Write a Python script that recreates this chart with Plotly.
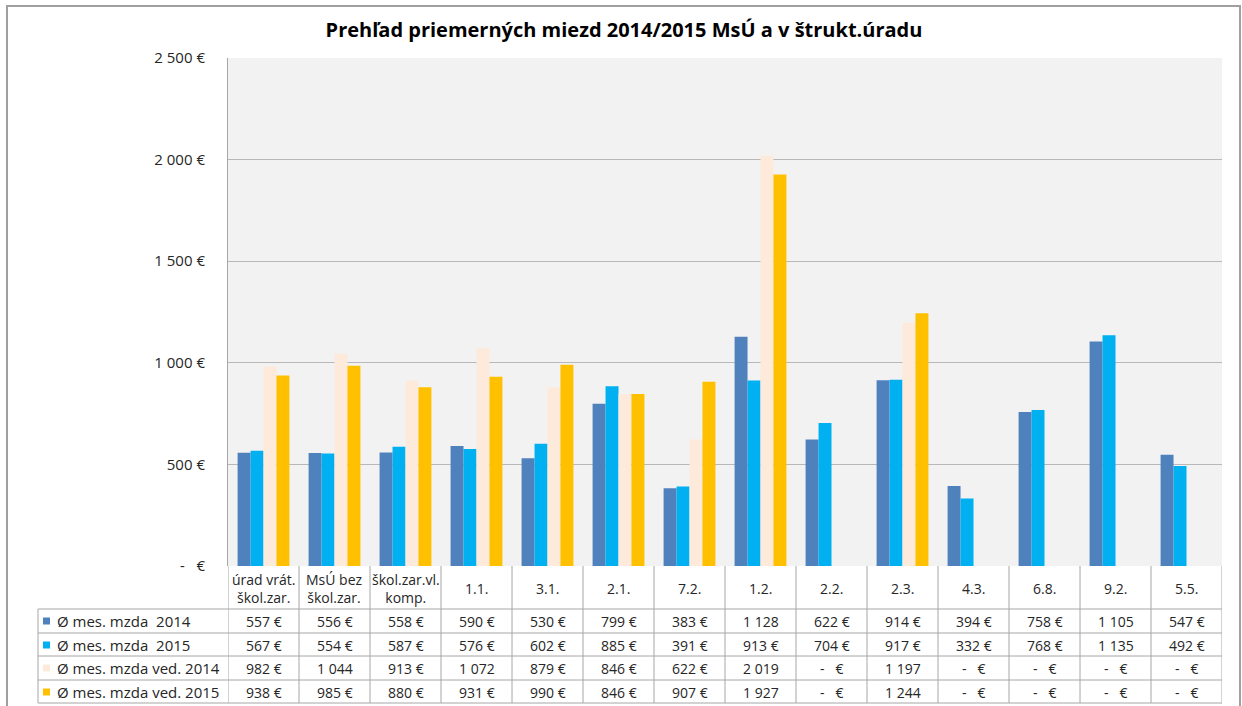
import plotly.graph_objects as go

categories = ["úrad vrát.<br>škol.zar.", "MsÚ bez<br>škol.zar.", "škol.zar.vl.<br>komp.", "1.1.", "3.1.", "2.1.",
              "7.2.", "1.2.", "2.2.", "2.3.", "4.3.", "6.8.", "9.2.", "5.5."]
series_names = ["Ø mes. mzda  2014", "Ø mes. mzda  2015", "Ø mes. mzda ved. 2014", "Ø mes. mzda ved. 2015"]
mzda_2014 = [557, 556, 558, 590, 530, 799, 383, 1128, 622, 914, 394, 758, 1105, 547]
mzda_2015 = [567, 554, 587, 576, 602, 885, 391, 913, 704, 917, 332, 768, 1135, 492]
ved_2014 = [982, 1044, 913, 1072, 879, 846, 622, 2019, 0, 1197, 0, 0, 0, 0]
ved_2015 = [938, 985, 880, 931, 990, 846, 907, 1927, 0, 1244, 0, 0, 0, 0]
colors = ["#4F81BD", "#00B0F0", "#FDEADA", "#FFC000"]
y_ticks = [0, 500, 1000, 1500, 2000, 2500]
y_tick_labels = ["-   €", "500 €", "1 000 €", "1 500 €", "2 000 €", "2 500 €"]
title = "Prehľad priemerných miezd 2014/2015 MsÚ a v štrukt.úradu"

series = [mzda_2014, mzda_2015, ved_2014, ved_2015]

W, H = 1242, 706
L, R, T, B = 228, 20, 58, 140
PW, PH = W - L - R, H - T - B
FONT = "Open Sans"
FS = 14
TXT = "#262626"
GRID = "#B8B8B8"
LINE = "#A6A6A6"


def px(xp):
    return (xp - L) / PW


def py(yp):
    return (H - B - yp) / PH


def fmt(v):
    if v == 0:
        return "-   €"
    if v >= 1000:
        return f"{v // 1000} {v % 1000:03d}"
    return f"{v} €"


fig = go.Figure()
for name, vals, col in zip(series_names, series, colors):
    fig.add_trace(go.Bar(x=list(range(len(categories))), y=vals, name=name,
                         marker=dict(color=col, line=dict(width=0)), showlegend=False))

shapes = []
annotations = []
n = len(categories)

row_lines = [609, 633, 656, 680, 703]
row_centers = [621, 645, 668, 692]
header_center = 588

for yp in row_lines:
    shapes.append(dict(type="line", xref="paper", yref="paper", x0=px(38), x1=1,
                       y0=py(yp), y1=py(yp), line=dict(color=LINE, width=1)))
for i in range(n + 1):
    shapes.append(dict(type="line", xref="x", yref="paper", x0=i - 0.5, x1=i - 0.5,
                       y0=0, y1=py(703), line=dict(color=LINE, width=1)))
shapes.append(dict(type="line", xref="paper", yref="paper", x0=px(38), x1=px(38),
                   y0=py(609), y1=py(703), line=dict(color=LINE, width=1)))
shapes.append(dict(type="rect", xref="paper", yref="paper", x0=px(7), x1=px(1240),
                   y0=py(712), y1=py(6), line=dict(color="#A0A0A0", width=2)))

for i, c in enumerate(categories):
    annotations.append(dict(x=i, y=py(header_center), xref="x", yref="paper", text=c,
                            showarrow=False, font=dict(family=FONT, size=FS, color=TXT),
                            xanchor="center", yanchor="middle"))

for r, (name, vals, col) in enumerate(zip(series_names, series, colors)):
    yc = py(row_centers[r])
    for i, v in enumerate(vals):
        annotations.append(dict(x=i, y=yc, xref="x", yref="paper", text=fmt(v),
                                showarrow=False, font=dict(family=FONT, size=FS, color=TXT),
                                xanchor="center", yanchor="middle"))
    shapes.append(dict(type="rect", xref="paper", yref="paper", x0=px(43), x1=px(50),
                       y0=yc - 3.5 / PH, y1=yc + 3.5 / PH, fillcolor=col, line=dict(width=0)))
    annotations.append(dict(x=px(55), y=yc, xref="paper", yref="paper", text=name,
                            showarrow=False, font=dict(family=FONT, size=15, color=TXT),
                            xanchor="left", yanchor="middle"))

fig.update_layout(
    width=W, height=H,
    margin=dict(l=L, r=R, t=T, b=B),
    paper_bgcolor="white", plot_bgcolor="#F2F2F2",
    barmode="group", bargap=0.27, bargroupgap=0,
    title=dict(text="<b>" + title + "</b>", x=624 / W, xref="container", xanchor="center",
               y=1 - 30 / H, yref="container", yanchor="middle",
               font=dict(family=FONT, size=20, color="black")),
    xaxis=dict(range=[-0.5, n - 0.5], showticklabels=False, showgrid=False, zeroline=False,
               showline=False, ticks=""),
    yaxis=dict(range=[0, 2500], tickvals=y_ticks, ticktext=y_tick_labels, showgrid=True,
               gridcolor=GRID, gridwidth=1, zeroline=False, showline=True, linecolor=LINE,
               ticks="", ticklabelstandoff=19, tickfont=dict(family=FONT, size=15, color=TXT)),
    shapes=shapes, annotations=annotations,
)
fig.write_html("out.html", post_script="document.body.style.margin='0';",
               config={"displayModeBar": False})
